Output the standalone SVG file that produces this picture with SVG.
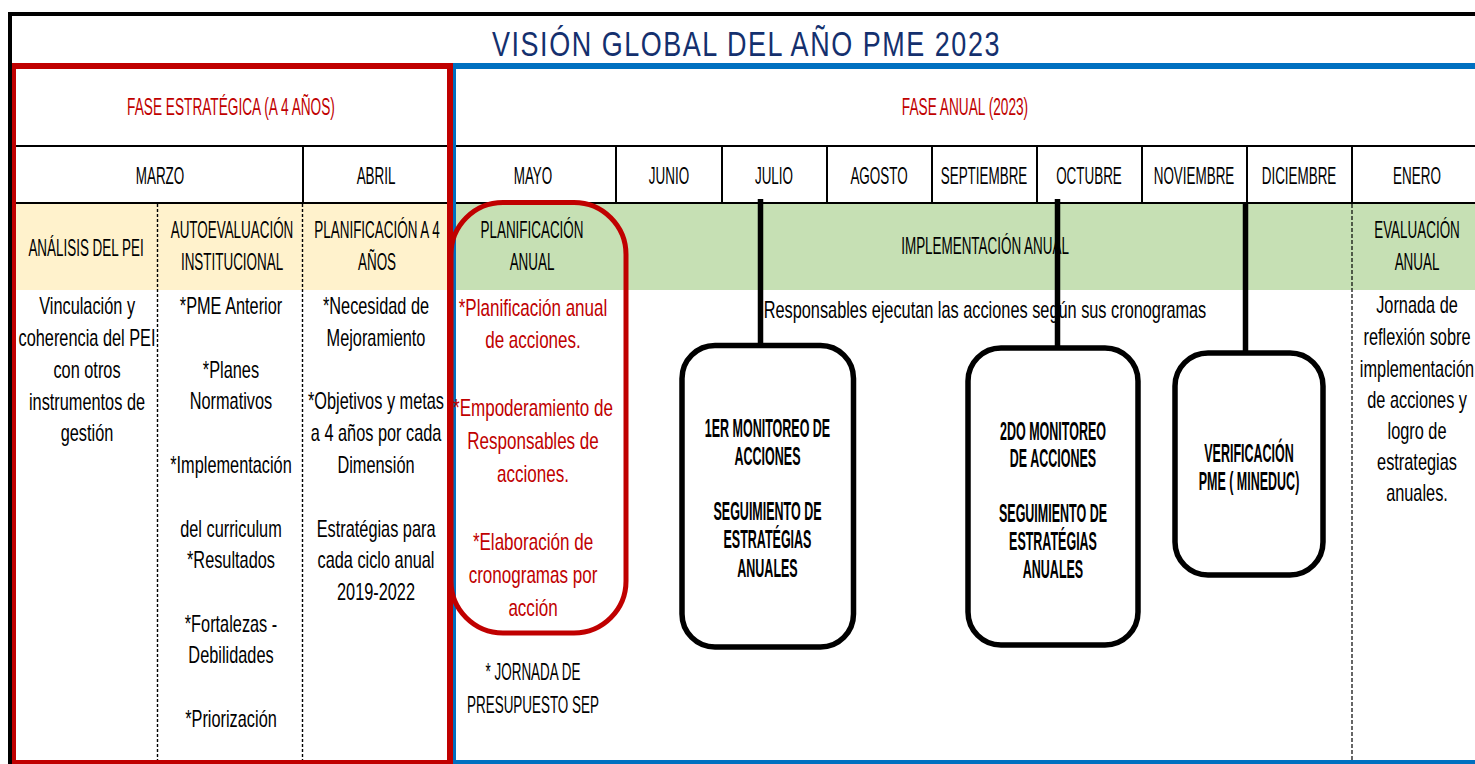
<svg xmlns="http://www.w3.org/2000/svg" width="1475" height="764" viewBox="0 0 1475 764">
<style>
text{font-family:"Liberation Sans",Arial,sans-serif;text-anchor:middle;transform-box:fill-box;transform-origin:center;}
.cap{font-size:24px;fill:#000;transform:scaleX(0.56);}
.rcap{font-size:24px;fill:#C00000;transform:scaleX(0.57);}
.txt{font-size:24px;fill:#000;transform:scaleX(0.68);}
.red{font-size:24px;fill:#C00000;transform:scaleX(0.71);}
.box{font-size:25px;font-weight:bold;fill:#000;transform:scaleX(0.5);}
.title{font-size:35px;fill:#14306E;letter-spacing:2px;}
.node{fill:#fff;stroke:#000;stroke-width:5.5;}
.conn{stroke:#000;stroke-width:5.5;fill:none;}
.grid{stroke:#000;stroke-width:2;fill:none;}
.dash{stroke:#000;stroke-width:1.4;stroke-dasharray:3 2;fill:none;}
</style>
<rect x="0" y="0" width="1475" height="764" fill="#fff"/>
<!-- backgrounds -->
<rect x="16" y="204" width="431" height="86" fill="#FFF2CC"/>
<rect x="456" y="204" width="1019" height="86" fill="#C6E0B4"/>
<!-- outer black frame -->
<rect x="8" y="12" width="1467" height="4" fill="#000"/>
<rect x="8" y="12" width="4" height="752" fill="#000"/>
<!-- grid lines -->
<g id="grid">
<line class="grid" x1="16" y1="146" x2="447" y2="146"/>
<line class="grid" x1="16" y1="203" x2="447" y2="203"/>
<line class="grid" x1="456" y1="146" x2="1475" y2="146"/>
<line class="grid" x1="456" y1="203" x2="1475" y2="203"/>
<line class="grid" x1="303" y1="146" x2="303" y2="203"/>
<line class="grid" x1="616" y1="146" x2="616" y2="203"/>
<line class="grid" x1="722" y1="146" x2="722" y2="203"/>
<line class="grid" x1="827" y1="146" x2="827" y2="203"/>
<line class="grid" x1="932" y1="146" x2="932" y2="203"/>
<line class="grid" x1="1037" y1="146" x2="1037" y2="203"/>
<line class="grid" x1="1142" y1="146" x2="1142" y2="203"/>
<line class="grid" x1="1247" y1="146" x2="1247" y2="203"/>
<line class="grid" x1="1352" y1="146" x2="1352" y2="203"/>
<line class="dash" x1="157.5" y1="204" x2="157.5" y2="760"/>
<line class="dash" x1="302.5" y1="204" x2="302.5" y2="760"/>
<line class="dash" x1="1352" y1="204" x2="1352" y2="760" style="stroke-dasharray:4 2;stroke-width:1.2"/>
</g>
<!-- phase frames -->
<g id="frame-estrategica" fill="#C00000">
<rect x="13" y="63" width="440" height="6"/>
<rect x="12" y="63" width="4" height="701"/>
<rect x="447" y="63" width="6" height="701"/>
<rect x="12" y="760" width="441" height="4"/>
</g>
<g id="frame-anual" fill="#0070C0">
<rect x="453" y="63" width="1022" height="6"/>
<rect x="453" y="63" width="3" height="701"/>
<rect x="453" y="760" width="1022" height="4"/>
</g>
<g id="title"><text class="title" x="746.5" y="56" textLength="509" lengthAdjust="spacingAndGlyphs">VISIÓN GLOBAL DEL AÑO PME 2023</text></g>
<g id="fase-estrategica"><text class="rcap" x="231" y="115">FASE ESTRATÉGICA (A 4 AÑOS)</text></g>
<g id="fase-anual"><text class="rcap" x="965" y="115">FASE ANUAL (2023)</text></g>
<g id="months">
<text class="cap" x="160" y="184">MARZO</text>
<text class="cap" x="376" y="184">ABRIL</text>
<text class="cap" x="533" y="184">MAYO</text>
<text class="cap" x="669" y="184">JUNIO</text>
<text class="cap" x="774" y="184">JULIO</text>
<text class="cap" x="879" y="184">AGOSTO</text>
<text class="cap" x="984" y="184">SEPTIEMBRE</text>
<text class="cap" x="1089" y="184">OCTUBRE</text>
<text class="cap" x="1194" y="184">NOVIEMBRE</text>
<text class="cap" x="1299" y="184">DICIEMBRE</text>
<text class="cap" x="1417" y="184">ENERO</text>
</g>
<g id="analisis-pei">
<text class="cap" x="86" y="256">ANÁLISIS DEL PEI</text>
<text class="txt" x="87" y="314">Vinculación y</text>
<text class="txt" x="87" y="346">coherencia del PEI</text>
<text class="txt" x="87" y="378">con otros</text>
<text class="txt" x="87" y="410">instrumentos de</text>
<text class="txt" x="87" y="441">gestión</text>
</g>
<g id="autoevaluacion">
<text class="cap" x="232" y="238">AUTOEVALUACIÓN</text>
<text class="cap" x="232" y="270">INSTITUCIONAL</text>
<text class="txt" x="231" y="314">*PME Anterior</text>
<text class="txt" x="231" y="378">*Planes</text>
<text class="txt" x="231" y="409">Normativos</text>
<text class="txt" x="231" y="473">*Implementación</text>
<text class="txt" x="231" y="537">del curriculum</text>
<text class="txt" x="231" y="568">*Resultados</text>
<text class="txt" x="231" y="632">*Fortalezas -</text>
<text class="txt" x="231" y="663">Debilidades</text>
<text class="txt" x="231" y="727">*Priorización</text>
</g>
<g id="planificacion-4">
<text class="cap" x="377" y="238">PLANIFICACIÓN A 4</text>
<text class="cap" x="377" y="270">AÑOS</text>
<text class="txt" x="376" y="314">*Necesidad de</text>
<text class="txt" x="376" y="346">Mejoramiento</text>
<text class="txt" x="376" y="409">*Objetivos y metas</text>
<text class="txt" x="376" y="441">a 4 años por cada</text>
<text class="txt" x="376" y="473">Dimensión</text>
<text class="txt" x="376" y="537">Estratégias para</text>
<text class="txt" x="376" y="568">cada ciclo anual</text>
<text class="txt" x="376" y="600">2019-2022</text>
</g>
<g id="implementacion">
<text class="cap" x="985" y="254">IMPLEMENTACIÓN ANUAL</text>
<text class="txt" x="985" y="318">Responsables ejecutan las acciones según sus cronogramas</text>
</g>
<g id="evaluacion">
<text class="cap" x="1417" y="238">EVALUACIÓN</text>
<text class="cap" x="1417" y="270">ANUAL</text>
<text class="txt" x="1417" y="313">Jornada de</text>
<text class="txt" x="1417" y="345">reflexión sobre</text>
<text class="txt" x="1417" y="377">implementación</text>
<text class="txt" x="1417" y="408">de acciones y</text>
<text class="txt" x="1417" y="439">logro de</text>
<text class="txt" x="1417" y="470">estrategias</text>
<text class="txt" x="1417" y="501">anuales.</text>
</g>
<g id="planificacion-anual">
<rect x="451" y="202.5" width="175" height="430.5" rx="52" ry="52" fill="none" stroke="#C00000" stroke-width="5"/>
<text class="cap" x="532" y="238">PLANIFICACIÓN</text>
<text class="cap" x="532" y="270">ANUAL</text>
<text class="red" x="533" y="316">*Planificación anual</text>
<text class="red" x="533" y="348">de acciones.</text>
<text class="red" x="533" y="416">*Empoderamiento de</text>
<text class="red" x="533" y="449">Responsables de</text>
<text class="red" x="533" y="482">acciones.</text>
<text class="red" x="533" y="550">*Elaboración de</text>
<text class="red" x="533" y="583">cronogramas por</text>
<text class="red" x="533" y="616">acción</text>
</g>
<g id="jornada-sep">
<text class="cap" x="533" y="680">* JORNADA DE</text>
<text class="cap" x="533" y="713">PRESUPUESTO SEP</text>
</g>
<g id="connectors">
<line class="conn" x1="760.5" y1="199" x2="760.5" y2="346"/>
<line class="conn" x1="1057.5" y1="199" x2="1057.5" y2="349"/>
<line class="conn" x1="1245.5" y1="203" x2="1245.5" y2="354"/>
</g>
<g id="monitoreo-1">
<rect class="node" x="682" y="345.5" width="171.5" height="301.5" rx="33" ry="33"/>
<text class="box" x="767.5" y="437">1ER MONITOREO DE</text>
<text class="box" x="767.5" y="465">ACCIONES</text>
<text class="box" x="767.5" y="520">SEGUIMIENTO DE</text>
<text class="box" x="767.5" y="548">ESTRATÉGIAS</text>
<text class="box" x="767.5" y="577">ANUALES</text>
</g>
<g id="monitoreo-2">
<rect class="node" x="968" y="348" width="170" height="297" rx="33" ry="33"/>
<text class="box" x="1053" y="440">2DO MONITOREO</text>
<text class="box" x="1053" y="467">DE ACCIONES</text>
<text class="box" x="1053" y="522">SEGUIMIENTO DE</text>
<text class="box" x="1053" y="550">ESTRATÉGIAS</text>
<text class="box" x="1053" y="578">ANUALES</text>
</g>
<g id="verificacion">
<rect class="node" x="1175" y="353" width="148" height="222" rx="33" ry="33"/>
<text class="box" x="1249" y="462">VERIFICACIÓN</text>
<text class="box" x="1249" y="490">PME ( MINEDUC)</text>
</g>
</svg>
